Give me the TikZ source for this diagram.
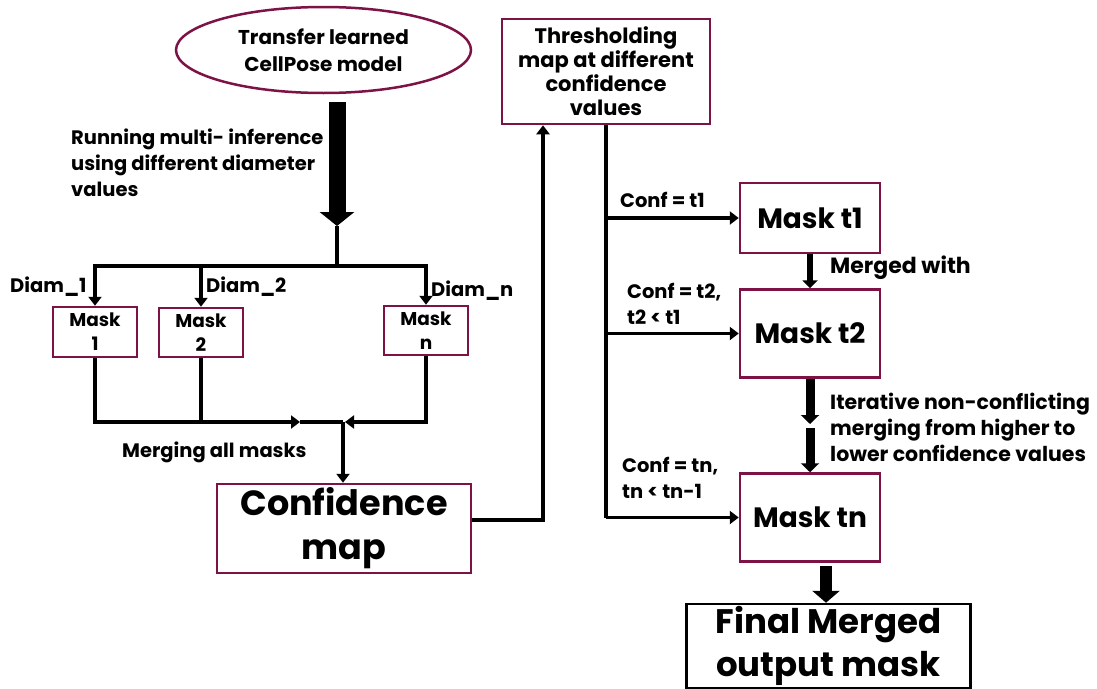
\documentclass[tikz,border=0pt]{standalone}
\usepackage{fontspec}
\setmainfont{Poppins}
\usetikzlibrary{arrows.meta,shapes.geometric}
\definecolor{maroon}{RGB}{125,18,70}
\tikzset{
  mbox/.style={draw=maroon, line width=2.5pt, fill=white, inner sep=1pt, align=center, font=\bfseries},
  lbl/.style={inner sep=0pt, font=\bfseries\fontsize{19.5}{26}\selectfont, align=left},
  arr/.style={line width=3.5pt, -{Triangle[width=13pt,length=9pt]}},
  ln/.style={line width=3.5pt},
}
\begin{document}
\begin{tikzpicture}[x=1pt,y=-1pt]
\useasboundingbox (0,0) rectangle (1097,688);
% nodes
\node[draw=maroon, line width=2.5pt, ellipse, minimum width=295, minimum height=86, inner sep=0pt, align=center, font=\bfseries\fontsize{20}{27}\selectfont] (ell) at (323.5,50) {Transfer learned\\CellPose model};
\node[mbox, minimum width=84, minimum height=50, font=\bfseries\fontsize{18.5}{24}\selectfont] (m1) at (95,332) {Mask\\1};
\node[mbox, minimum width=84, minimum height=49, font=\bfseries\fontsize{18.5}{24}\selectfont] (m2) at (201,332.5) {Mask\\2};
\node[mbox, minimum width=84, minimum height=49, font=\bfseries\fontsize{18.5}{24}\selectfont] (mn) at (426,330.5) {Mask\\n};
\node[mbox, minimum width=254, minimum height=89, font=\bfseries\fontsize{35}{44}\selectfont] (conf) at (344,528.5) {Confidence\\map};
\node[mbox, minimum width=208, minimum height=105, font=\bfseries\fontsize{21}{24}\selectfont] (thr) at (606,71.5) {Thresholding\\map at different\\confidence\\values};
\node[mbox, minimum width=140, minimum height=70, font=\bfseries\fontsize{28}{32}\selectfont] (mt1) at (810,218) {Mask t1};
\node[mbox, minimum width=140, minimum height=88, font=\bfseries\fontsize{28}{32}\selectfont] (mt2) at (810,333.5) {Mask t2};
\node[mbox, minimum width=140, minimum height=88, font=\bfseries\fontsize{28}{32}\selectfont] (mtn) at (810,517.5) {Mask tn};
\node[draw=black, line width=2.5pt, minimum width=284, minimum height=84, inner sep=1pt, align=center, font=\bfseries\fontsize{34}{43}\selectfont] (fin) at (828.5,646) {Final Merged\\output mask};
% labels
\node[lbl, anchor=west] (lrun) at (71,163) {Running multi- inference\\using different diameter\\values};
\node[lbl, anchor=west] (ld1) at (10,287) {Diam\_1};
\node[lbl, anchor=west] (ld2) at (206,287) {Diam\_2};
\node[lbl, anchor=west] (ldn) at (431,291) {Diam\_n};
\node[lbl, anchor=west] (lmerge) at (122,452) {Merging all masks};
\node[lbl, anchor=west] (lc1) at (620,200) {Conf = t1};
\node[lbl, anchor=west] (lc2) at (627,304) {Conf = t2,\\t2 < t1};
\node[lbl, anchor=west] (lcn) at (622,478) {Conf = tn,\\tn < tn-1};
\node[lbl, anchor=west, font=\bfseries\fontsize{22}{26}\selectfont] (lmw) at (830,268) {Merged with};
\node[lbl, anchor=west, font=\bfseries\fontsize{20.5}{26}\selectfont] (lit) at (830,427) {Iterative non-conflicting\\merging from higher to\\lower confidence values};
% coordinates
\coordinate (b1) at (337,102);
\coordinate (b2) at (337,226);
\coordinate (j0) at (337,266);
\coordinate (ml) at (300,422);
\coordinate (mr) at (345,422);
\coordinate (mj) at (343,422);
\coordinate (up) at (543,520);
\coordinate (i1) at (810,424);
\coordinate (i2) at (810,428);
\coordinate (f1) at (826,566);
% connectors
\draw[line width=17pt, -{Triangle[width=34pt,length=14pt]}] (b1) -- (b2);
\draw[ln] (b2) -- (j0);
\draw[arr] (j0) -| (m1.north);
\draw[arr] (j0) -| (mn.north);
\draw[arr] (m2.north |- j0) -- (m2.north);
\draw[arr] (m1.south) |- (ml);
\draw[ln] (m2.south) -- (m2.south |- ml);
\draw[ln] (ml) -- (mj);
\draw[arr] (mn.south) |- (mr);
\draw[arr] (mj) -- (conf.north -| mj);
\draw[arr] (conf.east |- up) -- (up) -- (up |- thr.south);
\draw[ln] (thr.south) -- (thr.south |- mtn.west);
\draw[arr] (thr.south |- mt1.west) -- (mt1.west);
\draw[arr] (thr.south |- mt2.west) -- (mt2.west);
\draw[arr] (thr.south |- mtn.west) -- (mtn.west);
\draw[line width=6pt, -{Triangle[width=15pt,length=8pt]}] (mt1.south) -- (mt2.north);
\draw[line width=9pt, -{Triangle[width=18pt,length=9pt]}] (mt2.south) -- (i1);
\draw[line width=9pt, -{Triangle[width=18pt,length=9pt]}] (i2) -- (mtn.north);
\draw[line width=12pt, -{Triangle[width=27pt,length=12pt]}] (f1) -- (f1 |- fin.north);
\end{tikzpicture}
\end{document}
